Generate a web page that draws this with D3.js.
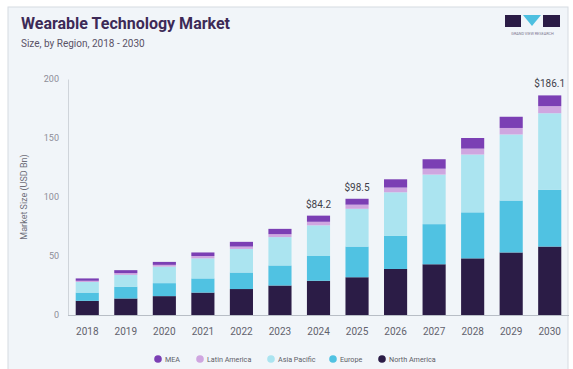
<!DOCTYPE html>
<html><head><meta charset="utf-8">
<script src="https://cdn.jsdelivr.net/npm/d3@7"></script>
<style>
html,body{margin:0;padding:0;background:#fff;}
svg{display:block;}
</style></head>
<body>
<svg id="chart" width="573" height="369"></svg>
<script>
const years = ["2018","2019","2020","2021","2022","2023","2024","2025","2026","2027","2028","2029","2030"];
const northAmerica = [12, 14, 16, 19, 22, 25, 29, 32, 39, 43, 48, 53, 58];
const europe       = [7, 10, 11, 12, 14, 17, 21, 26, 28, 34, 39, 44, 48];
const asiaPacific  = [9, 10, 14, 17, 20, 24, 26, 32, 37, 42, 49, 56, 65];
const latinAmerica = [1, 1.5, 1.5, 2, 2, 2.5, 3, 3.5, 4, 5, 5, 5.5, 6];
const mea          = [2, 2.5, 2.5, 3, 4, 4.5, 5.2, 5, 7, 8, 9, 9.5, 9.1];
const seriesNames  = ["North America","Europe","Asia Pacific","Latin America","MEA"];
const legendOrder  = ["MEA","Latin America","Asia Pacific","Europe","North America"];
const yTicks = [0, 50, 100, 150, 200];
const totalLabels = {"2024":"$84.2","2025":"$98.5","2030":"$186.1"};
const colors = {"North America":"#2b1c46","Europe":"#50c2e2","Asia Pacific":"#abe4f0","Latin America":"#cfa6e0","MEA":"#7b3fb4"};

const seriesData = {"North America":northAmerica,"Europe":europe,"Asia Pacific":asiaPacific,"Latin America":latinAmerica,"MEA":mea};
const table = years.map((y,i)=>{const r={year:y}; seriesNames.forEach(s=>r[s]=seriesData[s][i]); return r;});

const svg = d3.select("#chart");
svg.append("rect").attr("x",8).attr("y",7).attr("width",560).attr("height",372)
  .attr("fill","#f1f5f9").attr("stroke","#d6dbe1").attr("stroke-width",1);

// Title
svg.append("text").attr("x",21).attr("y",29).text("Wearable Technology Market")
  .attr("font-family","Roboto, 'Noto Sans', sans-serif").attr("font-weight","bold")
  .attr("font-size",16).attr("fill","#3d2a57");
svg.append("text").attr("x",21).attr("y",46.5).text("Size, by Region, 2018 - 2030")
  .attr("font-family","Roboto, 'Noto Sans', sans-serif").attr("font-size",10).attr("fill","#5a5266");

// Logo
const logo = svg.append("g").attr("transform","translate(505,15)");
logo.append("rect").attr("x",0).attr("y",0).attr("width",16).attr("height",12).attr("fill","#2b1c46");
logo.append("path").attr("d","M18,0 L36,0 L27,11 Z").attr("fill","#4dbfe0");
logo.append("rect").attr("x",38).attr("y",0).attr("width",17).attr("height",12).attr("fill","#2b1c46");
logo.append("text").attr("x",27.5).attr("y",19.5).attr("text-anchor","middle").text("GRAND VIEW RESEARCH")
  .attr("font-family","Roboto, sans-serif").attr("font-size",3.8).attr("fill","#7d7890");

const x = d3.scaleBand().domain(years).range([68,569]).paddingInner(0.4).paddingOuter(0.2);
const y = d3.scaleLinear().domain([0,200]).range([315,79]);

// Y axis
const yAxis = svg.append("g").attr("transform","translate(68,0)")
  .call(d3.axisLeft(y).tickValues(yTicks).tickSize(0).tickPadding(9));
yAxis.select(".domain").attr("stroke","#cfd4da");
yAxis.selectAll("text").attr("font-family","Roboto, sans-serif").attr("font-size",9).attr("fill","#8d8d98");

svg.append("text").attr("transform","translate(27,197) rotate(-90)").attr("text-anchor","middle")
  .text("Market Size (USD Bn)").attr("font-family","Roboto, sans-serif").attr("font-size",9).attr("fill","#6f6f7a");

// Bars
const stack = d3.stack().keys(seriesNames)(table);
svg.append("g").selectAll("g").data(stack).join("g").attr("fill",d=>colors[d.key])
  .selectAll("rect").data(d=>d).join("rect")
  .attr("x",d=>x(d.data.year)).attr("width",x.bandwidth())
  .attr("y",d=>y(d[1])).attr("height",d=>y(d[0])-y(d[1]));

// X axis
const xAxis = svg.append("g").attr("transform","translate(0,315)")
  .call(d3.axisBottom(x).tickSize(0).tickPadding(13));
xAxis.select(".domain").attr("stroke","#b8bec6").attr("d","M68,0.5H569");
xAxis.selectAll("text").attr("font-family","Roboto, sans-serif").attr("font-size",10).attr("fill","#62626d");

// Total labels
const totals = table.map(r=>({year:r.year,total:d3.sum(seriesNames,s=>r[s])}));
svg.append("g").selectAll("text").data(totals.filter(d=>totalLabels[d.year])).join("text")
  .attr("x",d=>x(d.year)+x.bandwidth()/2).attr("y",d=>y(d.total)-8)
  .attr("text-anchor","middle").text(d=>totalLabels[d.year])
  .attr("font-family","Roboto, sans-serif").attr("font-size",10).attr("fill","#3f3f4a");

// Legend
const legendX = [158,200,271,333,382];
const lg = svg.append("g").selectAll("g").data(legendOrder).join("g")
  .attr("transform",(d,i)=>`translate(${legendX[i]},359)`);
lg.append("circle").attr("r",3.8).attr("fill",d=>colors[d]);
lg.append("text").attr("x",7).attr("y",2.5).text(d=>d)
  .attr("font-family","Roboto, sans-serif").attr("font-size",7.2).attr("fill","#5d5d68");
</script>
</body></html>
